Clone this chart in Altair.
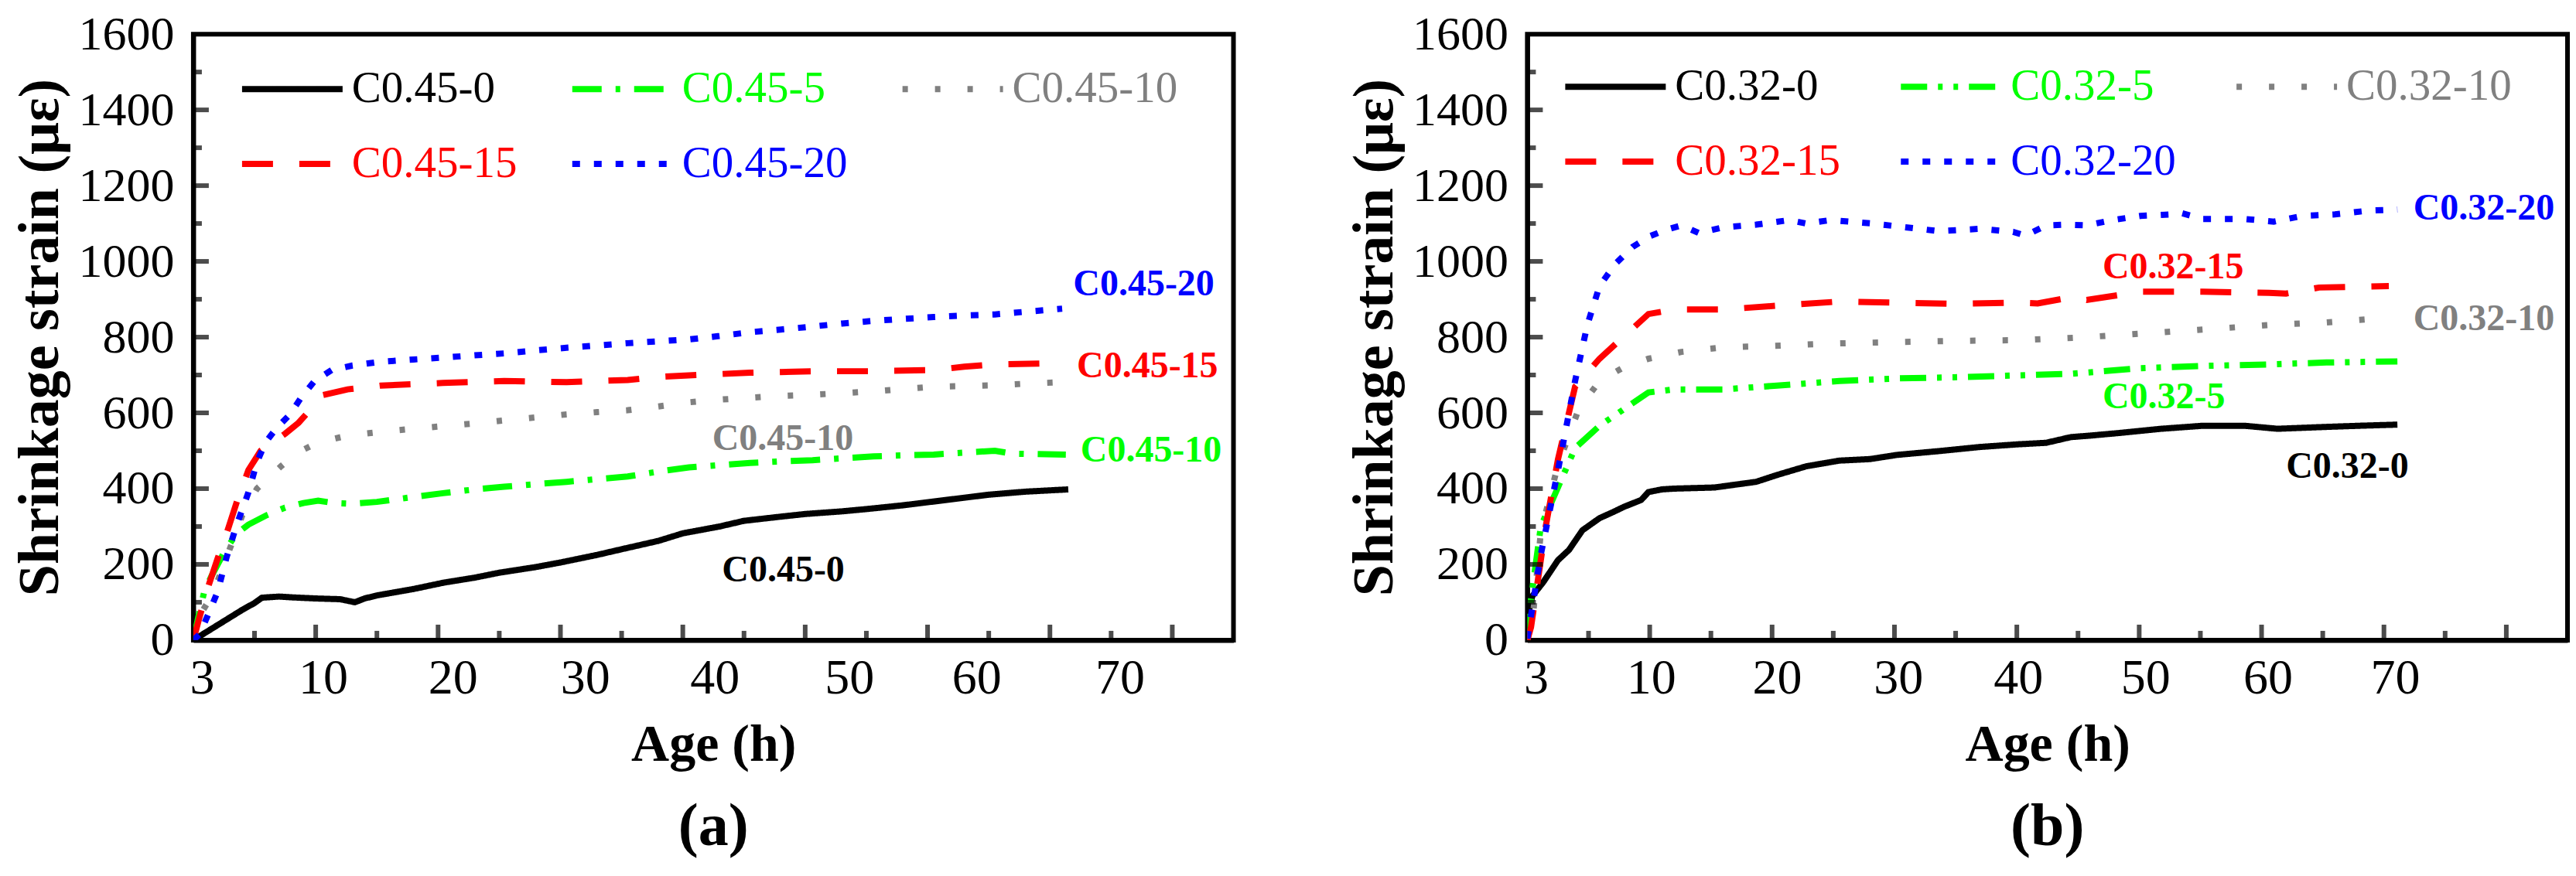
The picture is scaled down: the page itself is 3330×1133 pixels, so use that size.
import altair as alt
import pandas as pd

FONT = "Liberation Serif"
COLORS = ["#000000", "#00ff00", "#808080", "#ff0000", "#0000ff"]

# ---------------- panel (a) ----------------
A_NAMES = ["C0.45-0", "C0.45-5", "C0.45-10", "C0.45-15", "C0.45-20"]

a0_x = [0, 1, 2, 3, 4, 5, 5.6, 7, 8, 10, 12, 13.2, 14, 15, 18, 20.5, 23, 25, 28, 30, 33, 35, 38, 40, 43, 45, 48, 50, 53, 55, 58, 60, 63, 65, 68, 71.5]
a0_y = [0, 20, 40, 60, 80, 98, 112, 115, 113, 110, 108, 100, 110, 118, 135, 152, 165, 178, 193, 205, 225, 240, 262, 282, 300, 315, 326, 333, 340, 346, 356, 364, 376, 384, 392, 398]

a5_x = [0, 0.4, 0.9, 1.5, 2.5, 3.5, 4.5, 6, 7.5, 9, 10.2, 11.5, 13, 15, 18, 20.4, 23, 25.4, 28, 30.5, 33, 35.5, 38, 40.5, 43, 45.5, 48, 50.6, 53, 55.6, 58, 60.5, 63, 65.5, 67, 71.3]
a5_y = [0, 60, 129, 170, 231, 280, 305, 330, 350, 362, 368, 362, 360, 365, 378, 388, 398, 405, 412, 418, 425, 432, 445, 456, 462, 468, 472, 475, 480, 485, 488, 490, 495, 500, 492, 490]

a10_x = [0, 0.7, 1.6, 2.5, 3.2, 4, 5.2, 7.2, 8.5, 10.2, 12.6, 15.3, 18, 20.4, 23, 25.4, 28, 30.5, 33, 35.5, 38, 40.5, 43, 45.5, 48, 50.6, 53, 55.6, 58, 60.5, 63, 65.5, 68, 71]
a10_y = [0, 74, 123, 200, 260, 330, 400, 460, 495, 522, 540, 550, 558, 565, 572, 580, 588, 596, 602, 607, 617, 628, 635, 640, 645, 648, 652, 657, 663, 669, 671, 673, 677, 681]

a15_x = [0, 0.5, 1.2, 2, 2.8, 3.6, 4.5, 5.5, 6.5, 7.5, 8.6, 9.6, 10.6, 12.6, 15.3, 20.4, 25.4, 30.5, 35.5, 38, 40.5, 45.5, 50.6, 55.6, 60.5, 63, 65.5, 70.3]
a15_y = [0, 60, 140, 217, 290, 370, 449, 500, 522, 545, 574, 610, 647, 662, 672, 679, 684, 681, 687, 695, 699, 706, 710, 710, 713, 722, 728, 731]

a20_x = [0, 0.5, 1.3, 2, 2.7, 3.5, 4.5, 5.2, 5.9, 6.8, 7.9, 8.8, 9.9, 11.3, 13, 15.3, 18, 20.4, 23, 25.4, 28, 30.5, 33, 35.5, 38, 40.5, 43, 45.5, 48, 50.6, 53, 55.6, 58, 60.5, 63, 65.5, 68, 71]
a20_y = [0, 15, 74, 129, 217, 300, 390, 470, 522, 560, 596, 640, 684, 713, 725, 735, 741, 746, 752, 757, 765, 772, 778, 784, 789, 794, 803, 813, 820, 828, 836, 843, 848, 853, 857, 860, 867, 875]

A_LAB_TEXT = ["C0.45-20", "C0.45-15", "C0.45-10", "C0.45-10", "C0.45-0"]
A_LAB_X = [71.9, 72.2, 42.4, 72.5, 43.2]
A_LAB_Y = [939, 722, 531, 499, 184]
A_LAB_COL = ["#0000ff", "#ff0000", "#808080", "#00ff00", "#000000"]
A_XLAB_POS = [0.7, 10.6, 21.2, 32.0, 42.6, 53.6, 64.0, 75.7]

# ---------------- panel (b) ----------------
B_NAMES = ["C0.32-0", "C0.32-5", "C0.32-10", "C0.32-15", "C0.32-20"]

b0_x = [0, 0.4, 1.3, 2.5, 3.4, 4.5, 5.9, 7, 7.9, 9.3, 9.9, 11, 12, 15.3, 18.7, 20.4, 22.8, 25.5, 28, 30.2, 33.6, 37, 40.1, 42.4, 44.4, 46, 48.4, 51.8, 55.2, 58.6, 61.3, 65.3, 68, 71.1]
b0_y = [60, 116, 153, 211, 238, 290, 322, 338, 352, 370, 391, 398, 400, 403, 418, 436, 459, 474, 478, 489, 499, 510, 517, 521, 536, 540, 547, 558, 566, 566, 558, 563, 566, 569]

b5_x = [0, 0.3, 1.1, 2.5, 3.9, 5.9, 7.9, 9.9, 12, 16, 20.4, 25.5, 30.2, 34.9, 40.1, 44.4, 50.1, 55.2, 60.6, 65.3, 71.1]
b5_y = [0, 108, 300, 403, 507, 566, 610, 654, 662, 662, 672, 684, 691, 694, 699, 703, 718, 724, 728, 733, 736]

b10_x = [0, 0.5, 1.1, 2.5, 4.2, 5.9, 7.9, 9.9, 12.6, 16, 20.1, 24.8, 30.2, 34.9, 40.1, 45.1, 50.1, 55.2, 60.6, 65.3, 70.4]
b10_y = [0, 78, 285, 462, 610, 684, 721, 743, 761, 773, 777, 783, 787, 790, 792, 799, 809, 820, 832, 839, 851]

b15_x = [0, 0.3, 1.5, 2.5, 3.9, 5.9, 7.9, 9.9, 12, 16, 20.4, 25.5, 30.2, 34.9, 40.1, 41.7, 44.4, 45.7, 50.1, 55.2, 60.6, 62, 64.7, 70.4]
b15_y = [0, 34, 300, 477, 669, 743, 802, 861, 873, 873, 883, 894, 891, 888, 891, 889, 905, 898, 920, 920, 917, 915, 931, 935]

b20_x = [0, 1.1, 2.5, 3.9, 4.9, 5.9, 7.2, 8.6, 9.9, 11.3, 12.6, 14, 16, 18.7, 21.4, 22.8, 24.8, 28.2, 30.9, 33.6, 37, 39.7, 40.7, 42.4, 44, 45.7, 47.8, 50.1, 52.5, 53.5, 55.2, 58.6, 61, 63.3, 66, 68.7, 71.1]
b20_y = [4, 226, 448, 684, 832, 935, 994, 1038, 1065, 1083, 1095, 1075, 1090, 1097, 1109, 1100, 1109, 1100, 1090, 1080, 1086, 1078, 1068, 1095, 1097, 1095, 1109, 1120, 1124, 1127, 1112, 1112, 1105, 1120, 1124, 1134, 1137]

B_LAB_TEXT = ["C0.32-20", "C0.32-15", "C0.32-10", "C0.32-5", "C0.32-0"]
B_LAB_X = [72.4, 47.0, 72.4, 47.0, 62.0]
B_LAB_Y = [1138, 984, 847, 640, 458]
B_LAB_COL = ["#0000ff", "#ff0000", "#808080", "#00ff00", "#000000"]
B_XLAB_POS = [0.7, 10.1, 20.4, 30.3, 40.1, 50.5, 60.5, 70.9]

X_MAJOR = [10, 20, 30, 40, 50, 60, 70, 80]
X_MINOR = [5, 15, 25, 35, 45, 55, 65, 75]
Y_LABELS = [0, 200, 400, 600, 800, 1000, 1200, 1400, 1600]
Y_MAJOR = [200, 400, 600, 800, 1000, 1200, 1400]
Y_MINOR = [100, 300, 500, 700, 900, 1100, 1300, 1500]


def panel(names, xs_list, ys_list, dashes, lab_text, lab_x, lab_y, lab_col,
          xlab_pos, leg_x, leg_y, col_pad, title, width, height):
    rows = []
    for n, xs, ys in zip(names, xs_list, ys_list):
        for i, (x, y) in enumerate(zip(xs, ys)):
            rows.append({"series": n, "x": x, "y": y, "o": i})
    df = pd.DataFrame(rows)
    lab_df = pd.DataFrame({"t": lab_text, "x": lab_x, "y": lab_y, "c": lab_col})

    xscale = alt.Scale(domain=[0, 85], nice=False, zero=False)
    yscale = alt.Scale(domain=[0, 1600], nice=False)

    col_expr = ("[" + ",".join(f"'{c}'" for c in COLORS) + "][indexof(["
                + ",".join(f"'{n}'" for n in names) + "], datum.label)]")
    legend = alt.Legend(
        orient="none", legendX=leg_x, legendY=leg_y, columns=3,
        direction="horizontal", title=None, symbolType="stroke",
        symbolSize=16900, symbolStrokeWidth=8, labelFont=FONT,
        labelFontSize=57, labelColor=alt.ExprRef(expr=col_expr),
        labelLimit=600, labelOffset=8, columnPadding=col_pad,
        rowPadding=-70, padding=0,
    )

    lines = alt.Chart(df).mark_line(strokeWidth=8, clip=True).encode(
        x=alt.X("x:Q", scale=xscale, axis=alt.Axis(
            orient="bottom", values=xlab_pos, ticks=False, grid=False,
            labelExpr="datum.value < 5 ? '3' : format(floor(datum.value/10)*10, 'd')",
            domainColor="black", domainWidth=6, labelFont=FONT, labelFontSize=64,
            labelColor="black", labelPadding=18, labelFlush=False, labelOverlap=False,
            title="Age (h)", titleFont=FONT, titleFontSize=68, titleFontWeight="bold",
            titleColor="black", titlePadding=20)),
        y=alt.Y("y:Q", scale=yscale, axis=alt.Axis(
            orient="left", values=Y_LABELS, ticks=False, grid=False, format="d",
            domainColor="black", domainWidth=6, labelFont=FONT, labelFontSize=62,
            labelColor="black", labelPadding=25, labelFlush=False, labelOverlap=False,
            title="Shrinkage strain  (με)", titleFont=FONT, titleFontSize=74,
            titleFontWeight="bold", titleColor="black", titlePadding=10)),
        color=alt.Color("series:N", scale=alt.Scale(domain=names, range=COLORS), legend=legend),
        strokeDash=alt.StrokeDash("series:N", scale=alt.Scale(domain=names, range=dashes), legend=legend),
        order="o:Q",
    )

    # inward tick marks along the bottom and left frame edges
    xt_major = alt.Chart(pd.DataFrame({"v": X_MAJOR})).mark_tick(
        color="black", thickness=6, size=20, orient="vertical", yOffset=-10
    ).encode(x=alt.X("v:Q", scale=xscale, axis=None), y=alt.value(height))
    xt_minor = alt.Chart(pd.DataFrame({"v": X_MINOR})).mark_tick(
        color="black", thickness=6, size=12, orient="vertical", yOffset=-6
    ).encode(x=alt.X("v:Q", scale=xscale, axis=None), y=alt.value(height))
    yt_major = alt.Chart(pd.DataFrame({"v": Y_MAJOR})).mark_tick(
        color="black", thickness=6, size=20, orient="horizontal", xOffset=10
    ).encode(y=alt.Y("v:Q", scale=yscale, axis=None), x=alt.value(0))
    yt_minor = alt.Chart(pd.DataFrame({"v": Y_MINOR})).mark_tick(
        color="black", thickness=6, size=11, orient="horizontal", xOffset=5.5
    ).encode(y=alt.Y("v:Q", scale=yscale, axis=None), x=alt.value(0))

    texts = alt.Chart(lab_df).mark_text(
        font=FONT, fontSize=48, fontWeight="bold", align="left", baseline="middle"
    ).encode(
        x=alt.X("x:Q", scale=xscale, axis=None),
        y=alt.Y("y:Q", scale=yscale, axis=None),
        text="t:N",
        color=alt.Color("c:N", scale=None),
    )

    return alt.layer(lines, xt_major, xt_minor, yt_major, yt_minor, texts).resolve_axis(
        x="independent", y="independent"
    ).properties(
        width=width, height=height,
        title=alt.Title(title, orient="bottom", font=FONT, fontSize=78,
                        fontWeight="bold", color="black", anchor="middle", offset=33),
    )


A_DASH = [[1, 0], [38, 18, 6, 18], [7, 35], [40, 34], [10, 18]]
B_DASH = [[1, 0], [34, 14, 6, 14, 6, 14], [7, 35], [40, 34], [10, 18]]

pa = panel(A_NAMES, [a0_x, a5_x, a10_x, a15_x, a20_x], [a0_y, a5_y, a10_y, a15_y, a20_y],
           A_DASH, A_LAB_TEXT, A_LAB_X, A_LAB_Y, A_LAB_COL, A_XLAB_POS,
           59, 2, 55, "(a)", 1345, 784)
pb = panel(B_NAMES, [b0_x, b5_x, b10_x, b15_x, b20_x], [b0_y, b5_y, b10_y, b15_y, b20_y],
           B_DASH, B_LAB_TEXT, B_LAB_X, B_LAB_Y, B_LAB_COL, B_XLAB_POS,
           45, -1, 62, "(b)", 1345, 784)

chart = alt.hconcat(pa, pb, spacing=140).resolve_scale(
    color="independent", strokeDash="independent"
).resolve_legend(
    color="independent", strokeDash="independent"
).properties(
    padding={"left": 5, "top": 2, "right": 0, "bottom": 0},
    background="white",
).configure_view(
    stroke="black", strokeWidth=6
)

chart.save("out.html", embed_options={"renderer": "svg", "actions": False})
